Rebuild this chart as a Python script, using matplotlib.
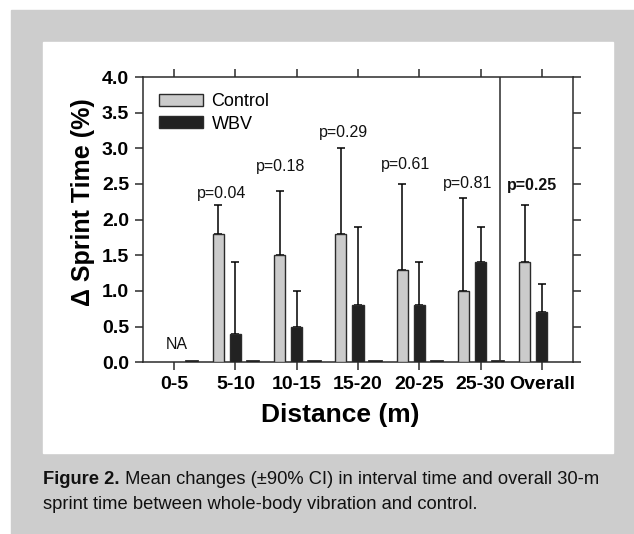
import matplotlib
matplotlib.use('Agg')
import matplotlib.pyplot as plt
import numpy as np
from matplotlib.patches import Patch, Rectangle

plt.rcParams['font.family'] = ['Liberation Sans', 'DejaVu Sans']

# ---- data ----
categories = ['0-5', '5-10', '10-15', '15-20', '20-25', '25-30', 'Overall']
control = [np.nan, 1.8, 1.5, 1.8, 1.3, 1.0, 1.4]
control_ci = [np.nan, 0.4, 0.9, 1.2, 1.2, 1.3, 0.8]
wbv = [np.nan, 0.4, 0.5, 0.8, 0.8, 1.4, 0.7]
wbv_ci = [np.nan, 1.0, 0.5, 1.1, 0.6, 0.5, 0.4]
baseline_marks = [0.03, 0.03, 0.03, 0.03, 0.03, 0.03]
p_labels = ['', 'p=0.04', 'p=0.18', 'p=0.29', 'p=0.61', 'p=0.81', 'p=0.25']

# ---- layout ----
GRAY_BG = '#cdcdcd'
LINE = '#2b2b2b'
OFFSET = 0.278
WIDTH = 0.18
P_DX = [0, -0.225, -0.27, -0.245, -0.225, -0.21, -0.16]
P_DY = [0, 0.17, 0.35, 0.22, 0.28, 0.21, 0.28]

W, H = 634, 534
fig = plt.figure(figsize=(W / 100, H / 100), dpi=100, facecolor='white')
fig.patches.append(Rectangle((11 / W, 0), 1 - 11 / W, 1 - 10 / H,
                             transform=fig.transFigure, color=GRAY_BG,
                             zorder=-2))
fig.patches.append(Rectangle((43 / W, 1 - 453 / H), 570 / W, 411 / H,
                             transform=fig.transFigure, color='white',
                             zorder=-1))

ax = fig.add_axes([143 / W, 1 - 362.3 / H, 430 / W, 285.3 / H])
ax.set_facecolor('none')

x = np.arange(len(categories))
ax.bar(x - OFFSET, control, WIDTH, color='#cbcbcb', edgecolor=LINE,
       linewidth=1.0, zorder=3)
ax.errorbar(x - OFFSET, control, yerr=[np.zeros(len(x)), control_ci],
            fmt='none', ecolor='black', elinewidth=1.1, capsize=2.8,
            capthick=1.1, zorder=2)
ax.bar(x, wbv, WIDTH, color='#222222', edgecolor=LINE, linewidth=1.0,
       zorder=3)
ax.errorbar(x, wbv, yerr=[np.zeros(len(x)), wbv_ci], fmt='none',
            ecolor='black', elinewidth=1.1, capsize=2.8, capthick=1.1,
            zorder=2)
xm = np.arange(len(baseline_marks))
ax.bar(xm + OFFSET, baseline_marks, 0.22, color='#222222',
       edgecolor=LINE, linewidth=0.6, zorder=3)

for i, lab in enumerate(p_labels):
    if not lab:
        continue
    ax.text(i + P_DX[i], control[i] + control_ci[i] + P_DY[i], lab,
            ha='center', va='center', fontsize=11.5,
            fontweight='bold' if i == 6 else 'normal', color='#111111')
ax.text(0.04, 0.25, 'NA', ha='center', va='center', fontsize=11.5,
        color='#111111')

ax.axvline(5.32, color=LINE, linewidth=1.1, zorder=4)

ax.set_xlim(-0.51, 6.51)
ax.set_ylim(0, 4)
ax.set_xticks(x)
ax.set_xticklabels(categories)
ax.set_yticks(np.arange(0, 4.01, 0.5))
ax.set_yticklabels([f'{v:.1f}' for v in np.arange(0, 4.01, 0.5)])
ax.tick_params(axis='both', direction='out', length=6, width=1.1,
               color=LINE, labelsize=14, pad=4, top=True, right=True)
for lab in ax.get_xticklabels() + ax.get_yticklabels():
    lab.set_fontweight('bold')
for s in ax.spines.values():
    s.set_color(LINE)
    s.set_linewidth(1.1)

ax.set_xlabel('Distance (m)', fontsize=19, fontweight='bold', va='center')
ax.set_ylabel('\u0394 Sprint Time (%)', fontsize=18, fontweight='bold',
              va='center')
ax.xaxis.set_label_coords(0.458, -0.185)
ax.yaxis.set_label_coords(-0.14, 0.562)

handles = [Patch(facecolor='#cbcbcb', edgecolor=LINE, label='Control'),
           Patch(facecolor='#222222', edgecolor=LINE, label='WBV')]
ax.legend(handles=handles, loc='upper left', bbox_to_anchor=(0.0, 1.0),
          frameon=False, fontsize=13, handlelength=2.4,
          handleheight=0.62, handletextpad=0.5, labelspacing=0.3,
          borderaxespad=0.5)

# caption with a bold lead-in
CAP_FS = 13.2
cap_y1 = 1 - 480 / H
cap_y2 = 1 - 504.3 / H
cap_x = 43 / W
t1 = fig.text(cap_x, cap_y1, 'Figure 2.', fontsize=CAP_FS,
              fontweight='bold', va='center', color='#111111')
fig.canvas.draw()
bb = t1.get_window_extent(fig.canvas.get_renderer())
fig.text(bb.x1 / W, cap_y1,
         ' Mean changes (\u00b190% CI) in interval time and overall 30-m',
         fontsize=CAP_FS, va='center', color='#111111')
fig.text(cap_x, cap_y2,
         'sprint time between whole-body vibration and control.',
         fontsize=CAP_FS, va='center', color='#111111')

fig.savefig('out.png', dpi=100, facecolor=fig.get_facecolor())
